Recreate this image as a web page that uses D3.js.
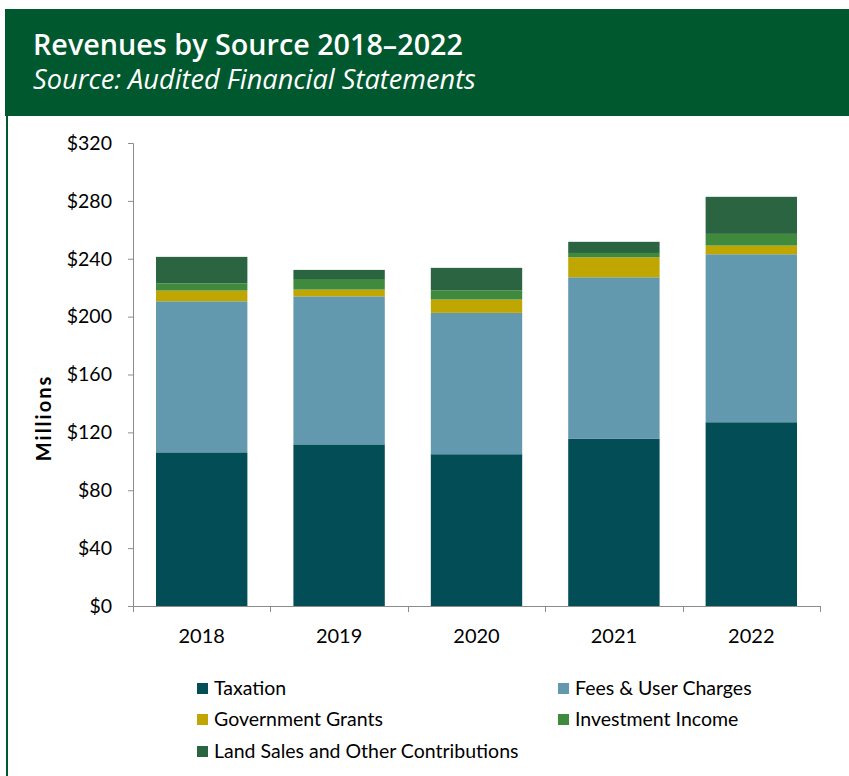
<!DOCTYPE html>
<html>
<head>
<meta charset="utf-8">
<script src="https://cdn.jsdelivr.net/npm/d3@7"></script>
<style>
  html, body { margin: 0; padding: 0; background: #ffffff; }
  svg { display: block; }
</style>
</head>
<body>
<div id="chart"></div>
<script>
// Revenue by source, in millions of dollars
const years = ["2018", "2019", "2020", "2021", "2022"];
const taxation = [106.2, 111.7, 104.9, 115.5, 127.0];
const feesUserCharges = [104.4, 102.3, 97.7, 111.7, 116.1];
const governmentGrants = [7.4, 4.7, 9.2, 13.8, 6.0];
const investmentIncome = [5.0, 7.3, 6.4, 3.0, 8.1];
const landSales = [18.3, 6.3, 15.5, 7.7, 25.6];
const seriesNames = ["Taxation", "Fees & User Charges", "Government Grants", "Investment Income", "Land Sales and Other Contributions"];
const seriesColors = ["#024d56", "#6399ae", "#bfa600", "#3f8a3d", "#2a6441"];
const yTicks = [0, 40, 80, 120, 160, 200, 240, 280, 320];

const W = 849, H = 776;
const svg = d3.select("#chart").append("svg").attr("width", W).attr("height", H);

// Header band
svg.append("rect").attr("x", 5).attr("y", 9).attr("width", W - 5).attr("height", 107).attr("fill", "#00582e");
svg.append("line").attr("x1", 7).attr("x2", 7).attr("y1", 116).attr("y2", H)
  .attr("stroke", "#00582e").attr("stroke-width", 2);

// Fit a header line to a given width by adjusting its font size
function fitText(sel, width) {
  const len = sel.node().getComputedTextLength();
  const size = parseFloat(sel.attr("font-size"));
  if (len > 0) sel.attr("font-size", (size * width / len).toFixed(2));
}
const title = svg.append("text").attr("x", 33).attr("y", 55)
  .attr("fill", "#ffffff").attr("font-family", "'Open Sans', sans-serif").attr("font-weight", 600)
  .attr("font-size", 27).text("Revenues by Source 2018–2022");
fitText(title, 430);
const subtitle = svg.append("text").attr("x", 33).attr("y", 89)
  .attr("fill", "#ffffff").attr("font-family", "'Open Sans', sans-serif").attr("font-style", "italic")
  .attr("font-size", 23).text("Source: Audited Financial Statements");
fitText(subtitle, 443);

// Stack the series
const rows = years.map((y, i) => ({
  year: y,
  s0: taxation[i], s1: feesUserCharges[i], s2: governmentGrants[i], s3: investmentIncome[i], s4: landSales[i]
}));
const keys = ["s0", "s1", "s2", "s3", "s4"];
const stacked = d3.stack().keys(keys)(rows);

const x = d3.scaleBand().domain(years).range([133, 820]).paddingInner(0.335).paddingOuter(0.1675);
const y = d3.scaleLinear().domain([0, 320]).range([606, 143]);

const font = "Lato, 'Liberation Sans', sans-serif";

// Bars
svg.append("g").selectAll("g").data(stacked).join("g")
  .attr("fill", (d, i) => seriesColors[i])
  .selectAll("rect").data(d => d).join("rect")
  .attr("x", d => x(d.data.year))
  .attr("width", x.bandwidth())
  .attr("y", d => y(d[1]))
  .attr("height", d => y(d[0]) - y(d[1]));

// Y axis
const yAxis = svg.append("g").attr("transform", "translate(133,0)")
  .call(d3.axisLeft(y).tickValues(yTicks).tickSize(5).tickPadding(16).tickFormat(d => "$" + d));
yAxis.select(".domain").attr("stroke", "#8c8c8c").attr("d", "M-5,143.5H0.5V606.5");
yAxis.selectAll(".tick line").attr("stroke", "#8c8c8c");
yAxis.selectAll("text").attr("font-family", font).attr("font-size", 19.5).attr("fill", "#000");

// X axis with boundary ticks
const xAxis = svg.append("g").attr("transform", "translate(0,606)");
xAxis.append("line").attr("x1", 128).attr("x2", 820).attr("y1", 0.5).attr("y2", 0.5).attr("stroke", "#8c8c8c");
const boundaries = years.map(yr => x(yr) - x.step() * x.paddingInner() / 2).concat([820]);
xAxis.selectAll("line.b").data(boundaries).join("line").attr("class", "b")
  .attr("x1", d => Math.round(d) + 0.5).attr("x2", d => Math.round(d) + 0.5)
  .attr("y1", 0).attr("y2", 6).attr("stroke", "#8c8c8c");
xAxis.selectAll("text").data(years).join("text")
  .attr("x", d => x(d) + x.bandwidth() / 2).attr("y", 37)
  .attr("text-anchor", "middle").attr("font-family", font).attr("font-size", 20).attr("fill", "#000")
  .text(d => d);

// Y axis title
svg.append("text").attr("transform", "translate(51,418) rotate(-90)")
  .attr("text-anchor", "middle").attr("font-family", font).attr("font-weight", 700)
  .attr("font-size", 20).attr("letter-spacing", 2).attr("fill", "#000").text("Millions");

// Legend
const legendPos = [[197, 688], [558, 688], [197, 719], [558, 719], [197, 751]];
const legend = svg.append("g").selectAll("g").data(seriesNames).join("g")
  .attr("transform", (d, i) => `translate(${legendPos[i][0]},${legendPos[i][1]})`);
legend.append("rect").attr("x", 0).attr("y", -5).attr("width", 11).attr("height", 11)
  .attr("fill", (d, i) => seriesColors[i]);
legend.append("text").attr("x", 17).attr("y", 6.5).attr("font-family", font)
  .attr("font-size", 19.5).attr("fill", "#000").text(d => d);
</script>
</body>
</html>
